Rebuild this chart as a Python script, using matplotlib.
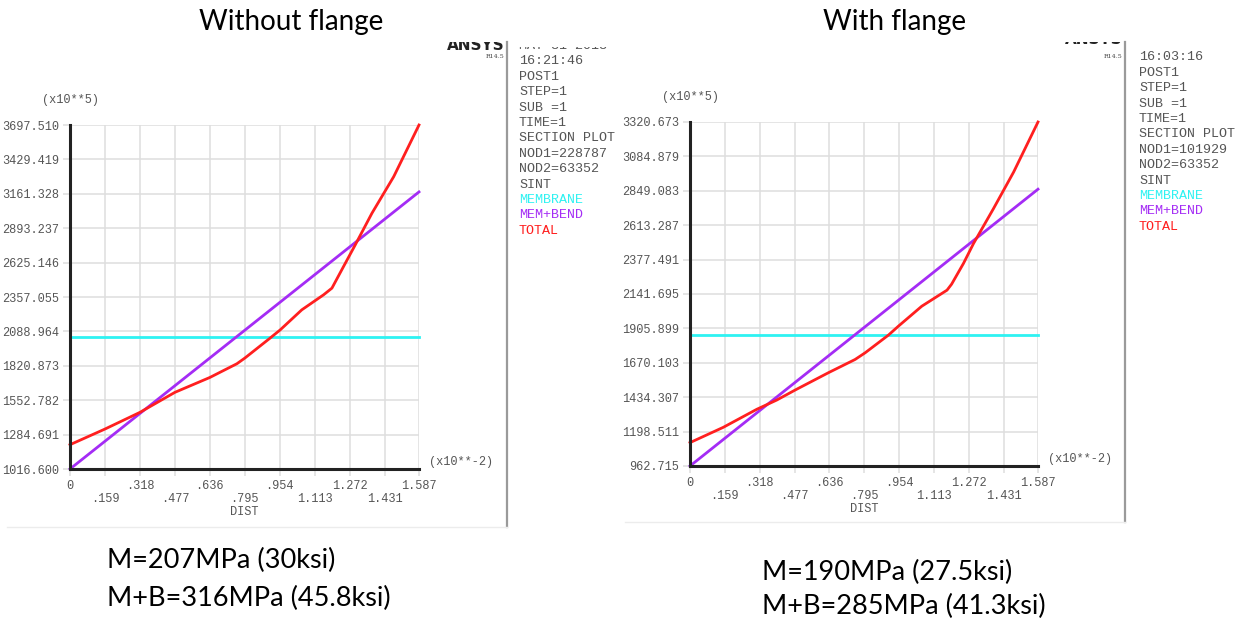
import numpy as np
import matplotlib.pyplot as plt
from matplotlib.patches import Rectangle

# section plot data (stress in x10**5 Pa, dist in x10**-2 m)
dist_ticks = [0, .159, .318, .477, .636, .795, .954, 1.113, 1.272, 1.431, 1.587]
dist_labels = ['0', '.159', '.318', '.477', '.636', '.795', '.954', '1.113', '1.272', '1.431', '1.587']

left_yticks = [1016.600, 1284.691, 1552.782, 1820.873, 2088.964, 2357.055,
               2625.146, 2893.237, 3161.328, 3429.419, 3697.510]
right_yticks = [962.715, 1198.511, 1434.307, 1670.103, 1905.899, 2141.695,
                2377.491, 2613.287, 2849.083, 3084.879, 3320.673]

left_membrane = 2047
left_memben = [1016.6, 3176]
left_total_x = [0, .159, .318, .477, .636, .759, .795, .910, .956, 1.054, 1.153, 1.191,
                1.244, 1.297, 1.373, 1.472, 1.587]
left_total_y = [1206, 1328, 1458, 1614, 1730, 1837, 1881, 2037, 2101, 2257, 2374, 2426,
                2595, 2763, 3010, 3295, 3697.5]

right_membrane = 1864
right_memben = [962.7, 2860]
right_total_x = [0, .152, .304, .396, .479, .631, .753, .799, .905, .951, 1.057, 1.172, 1.193,
                 1.247, 1.293, 1.384, 1.476, 1.587]
right_total_y = [1123, 1228, 1351, 1415, 1483, 1602, 1693, 1739, 1860, 1922, 2058, 2168, 2209,
                 2351, 2488, 2727, 2978, 3320.7]

left_info = ['MAY 31 2013', '16:21:46', 'POST1', 'STEP=1', 'SUB =1', 'TIME=1', 'SECTION PLOT',
             'NOD1=228787', 'NOD2=63352', 'SINT', 'MEMBRANE', 'MEM+BEND', 'TOTAL']
right_info = ['MAY 31 2013', '16:03:16', 'POST1', 'STEP=1', 'SUB =1', 'TIME=1', 'SECTION PLOT',
              'NOD1=101929', 'NOD2=63352', 'SINT', 'MEMBRANE', 'MEM+BEND', 'TOTAL']

titles = ['Without flange', 'With flange']
notes = [['M=207MPa (30ksi)', 'M+B=316MPa (45.8ksi)'],
         ['M=190MPa (27.5ksi)', 'M+B=285MPa (41.3ksi)']]

W, H = 1252, 623
CYAN = '#2ef2f2'
PURPLE = '#a42cf5'
RED = '#ff1f1f'
TXT = '#555555'
MONO = 'Liberation Mono'
SANS = 'Lato'

fig = plt.figure(figsize=(W / 100, H / 100), dpi=100)


def fx(px):
    return px / W


def fy(py):
    return 1 - py / H


def clipbox(x0, y0, x1, y1):
    r = Rectangle((fx(x0), fy(y1)), fx(x1 - x0), (y1 - y0) / H,
                  transform=fig.transFigure, fill=False, lw=0)
    fig.add_artist(r)
    return r


def panel(rect, yticks, membrane, memben, tx, ty):
    ax = fig.add_axes(rect)
    ax.plot([0, dist_ticks[-1]], [membrane, membrane], color=CYAN, lw=2.0, clip_on=False)
    ax.plot([0, dist_ticks[-1]], memben, color=PURPLE, lw=2.0, clip_on=False)
    ax.plot(tx, ty, color=RED, lw=2.0, clip_on=False)
    ax.set_xlim(0, dist_ticks[-1])
    ax.set_ylim(yticks[0], yticks[-1])
    ax.set_xticks(dist_ticks)
    ax.set_xticklabels([l if i % 2 == 0 else '\n' + l for i, l in enumerate(dist_labels)],
                       family=MONO, fontsize=8.6, color=TXT, linespacing=1.05)
    ax.set_yticks(yticks)
    ax.set_yticklabels(['%.3f' % v for v in yticks], family=MONO, fontsize=8.6, color=TXT)
    ax.grid(True, color='#dedede', lw=1.1)
    ax.tick_params(length=5, width=1.1, color='#dedede', pad=3)
    for s in ['top', 'right']:
        ax.spines[s].set_visible(False)
    for s in ['left', 'bottom']:
        ax.spines[s].set_linewidth(2.2)
        ax.spines[s].set_color('#222222')
    ax.set_xlabel('DIST', family=MONO, fontsize=8.6, color=TXT, labelpad=1)
    ax.text(0, 1.055, '(x10**5)', transform=ax.transAxes, ha='center', va='bottom',
            family=MONO, fontsize=8.6, color=TXT)
    ax.text(1.03, 0.02, '(x10**-2)', transform=ax.transAxes, ha='left', va='center',
            family=MONO, fontsize=8.6, color=TXT)
    return ax


panel([fx(70), fy(469), fx(349), (469 - 125) / H], left_yticks, left_membrane,
      left_memben, left_total_x, left_total_y)
panel([fx(690), fy(466), fx(348), (466 - 122) / H], right_yticks, right_membrane,
      right_memben, right_total_x, right_total_y)

# info blocks beside each plot, clipped like the screenshots
colors = {'MEMBRANE': CYAN, 'MEM+BEND': PURPLE, 'TOTAL': RED}
for info, x0, y0, sep_x, bottom, right, logo_y in [(left_info, 519, 46, 507, 527, 615, 46),
                                                   (right_info, 1139, 42, 1125, 522, 1252, 40)]:
    box = clipbox(sep_x, 47, right, bottom)
    for i, line in enumerate(info):
        t = fig.text(fx(x0), fy(y0 + i * 15.4), line, family=MONO, fontsize=9.6,
                     color=colors.get(line, TXT), va='center', ha='left')
        t.set_clip_path(box)
    logo_box = clipbox(sep_x - 70, 42, sep_x, 60)
    t = fig.text(fx(sep_x - 2), fy(logo_y), 'ANSYS', family='DejaVu Sans', fontsize=11,
                 weight='bold', color='#222222', ha='right', va='center')
    t.set_clip_path(logo_box)
    fig.text(fx(sep_x - 3), fy(57), 'R14.5', family='DejaVu Serif', fontsize=4.5,
             color='#444444', ha='right', va='center')
    fig.add_artist(plt.Line2D([fx(sep_x), fx(sep_x)], [fy(bottom), fy(42)],
                              transform=fig.transFigure, color='#9a9a9a', lw=1.6))
    fig.add_artist(plt.Line2D([fx(sep_x - 500), fx(sep_x)], [fy(bottom), fy(bottom)],
                              transform=fig.transFigure, color='#ececec', lw=1.0))

fig.text(fx(291), fy(22), titles[0], family=SANS, fontsize=20, ha='center', va='center')
fig.text(fx(895), fy(22), titles[1], family=SANS, fontsize=20, ha='center', va='center')

for (l1, l2), x0, ys in [(notes[0], 107, (560, 598)), (notes[1], 762, (572, 606))]:
    fig.text(fx(x0), fy(ys[0]), l1, family=SANS, fontsize=19.5, ha='left', va='center')
    fig.text(fx(x0), fy(ys[1]), l2, family=SANS, fontsize=19.5, ha='left', va='center')

fig.savefig('out.png', dpi=100)
